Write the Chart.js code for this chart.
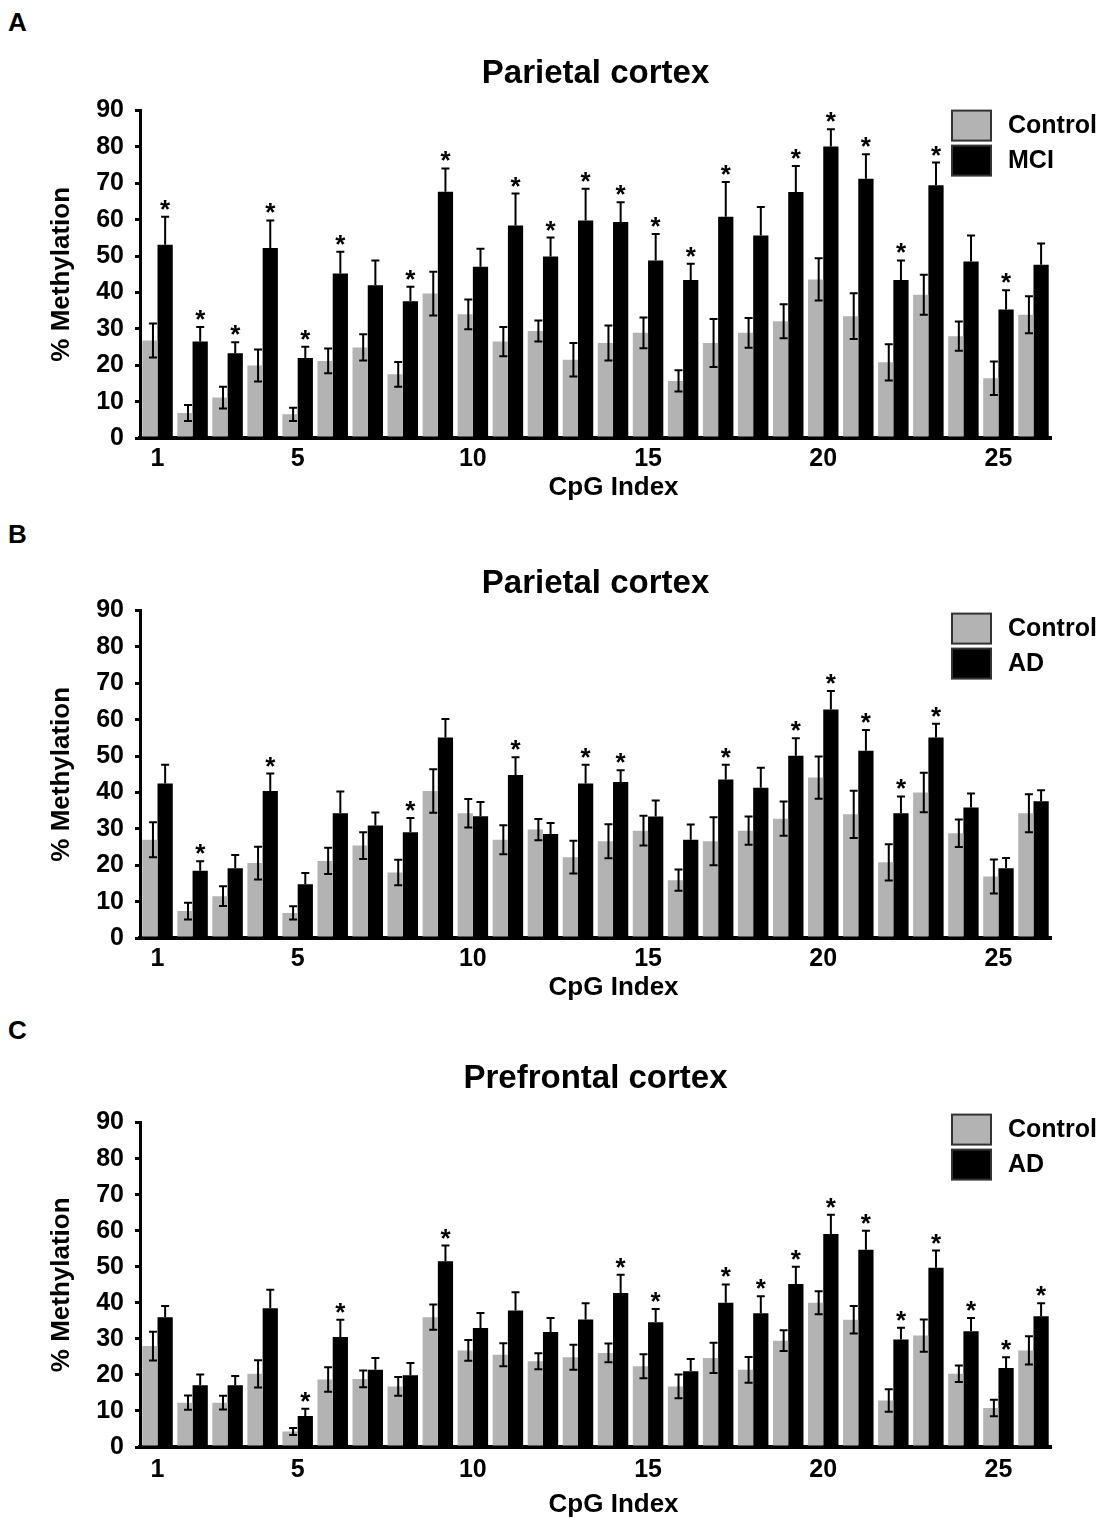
<!DOCTYPE html>
<html>
<head>
<meta charset="utf-8">
<script src="https://cdn.jsdelivr.net/npm/chart.js@4.4.1/dist/chart.umd.min.js"></script>
<style>
  body { margin: 0; width: 1106px; height: 1518px; background: #fff; position: relative; overflow: hidden; }
  .panel { position: absolute; left: 0; width: 1106px; }
  .letter { position: absolute; left: 8px; font: bold 26px "Liberation Sans", Arial, sans-serif; line-height: 1; color: #000; }
</style>
</head>
<body>
<div class="letter" style="top:9px">A</div>
<div class="letter" style="top:521px">B</div>
<div class="letter" style="top:1017px">C</div>
<div class="panel" id="panelA" style="top:40px;height:470px"><canvas></canvas></div>
<div class="panel" id="panelB" style="top:550px;height:460px"><canvas></canvas></div>
<div class="panel" id="panelC" style="top:1036px;height:482px"><canvas></canvas></div>
<script>
const cpgIndex = [1,2,3,4,5,6,7,8,9,10,11,12,13,14,15,16,17,18,19,20,21,22,23,24,25,26];
const xTickLabels = [1,5,10,15,20,25];

// A: parietal cortex, control vs MCI
const controlA    = [26.8,6.9,11.1,19.9,6.5,21.2,24.9,17.5,39.7,34.0,26.5,29.4,21.5,26.1,28.9,15.7,26.1,28.9,32.1,43.6,33.5,20.8,39.4,28.0,16.4,33.9];
const controlErrA = [4.7,2.2,3.0,4.4,1.8,3.4,3.6,3.4,6.0,4.1,4.0,2.9,4.6,4.8,4.2,2.9,6.6,4.1,4.7,5.8,6.3,5.0,5.5,4.0,4.6,5.1];
const mciA        = [53.1,26.5,23.3,52.2,22.0,45.2,42.0,37.6,67.7,47.1,58.4,49.9,59.8,59.4,48.8,43.4,60.8,55.7,67.6,80.1,71.3,43.4,69.5,48.5,35.3,47.6];
const mciErrA     = [7.7,4.0,3.0,7.6,3.1,6.0,6.8,4.0,6.4,4.9,8.8,5.2,8.7,5.4,7.3,4.5,9.6,7.8,7.2,4.8,6.7,5.4,6.2,7.2,5.3,5.9];
const sigA        = [1,2,3,4,5,6,8,9,11,12,13,14,15,16,17,19,20,21,22,23,25];

// B: parietal cortex, control vs AD
const controlB    = [27.0,7.4,11.5,20.6,6.9,21.2,25.4,18.0,40.4,34.3,27.0,29.8,22.2,26.6,29.5,15.9,26.6,29.5,32.8,44.1,34.0,20.8,40.0,28.8,16.9,34.3];
const controlErrB = [4.8,2.3,2.7,4.5,1.8,3.6,3.7,3.5,6.0,3.9,4.0,2.9,4.5,4.7,4.1,2.9,6.6,3.9,4.7,5.8,6.5,5.0,5.4,3.8,4.7,5.2];
const adB         = [42.5,18.5,19.2,40.4,14.8,34.3,30.9,29.1,55.1,33.5,44.8,28.6,42.5,42.9,33.4,27.0,43.6,41.3,50.1,62.8,51.5,34.3,55.1,35.9,19.2,37.6];
const adErrB      = [5.1,2.6,3.6,4.8,3.1,6.0,3.6,3.9,5.1,3.9,4.9,3.0,5.1,3.2,4.4,4.2,4.0,5.5,4.8,5.1,5.7,4.6,3.8,3.8,2.8,3.0];
const sigB        = [2,4,8,11,13,14,17,19,20,21,22,23];

// C: prefrontal cortex, control vs AD
const controlC    = [28.0,12.3,12.3,20.3,4.3,18.7,18.9,16.8,36.0,26.8,25.6,23.8,24.9,26.1,22.4,16.8,24.7,21.4,29.5,40.0,35.3,12.9,30.9,20.3,10.8,26.8];
const controlErrC = [4.0,2.0,1.9,3.8,1.0,3.4,2.3,2.6,3.5,2.9,3.2,2.2,3.5,2.6,3.3,3.3,4.2,3.6,2.9,3.2,3.8,3.1,4.5,2.3,2.3,3.9];
const adC         = [36.0,17.1,17.1,38.5,8.6,30.5,21.4,19.9,51.5,33.0,37.9,31.9,35.4,42.7,34.6,21.0,40.0,37.1,45.2,59.1,54.7,29.8,49.7,32.1,21.9,36.3];
const adErrC      = [3.1,3.0,2.6,5.1,2.0,4.8,3.3,3.4,4.4,4.2,5.0,3.9,4.5,5.1,3.7,3.4,5.1,4.7,4.8,5.3,5.3,3.3,4.8,3.7,3.0,3.6];
const sigC        = [5,6,9,14,15,17,18,19,20,21,22,23,24,25,26];

const FONT = '"Liberation Sans", Arial, Helvetica, sans-serif';
const GRAY = '#b3b3b3';

// error bars + significance stars, drawn with the y scale
const errorBars = {
    id: 'errorBars',
    afterDatasetsDraw(chart) {
        const ctx = chart.ctx;
        const yScale = chart.scales.y;
        ctx.save();
        ctx.strokeStyle = '#000';
        ctx.fillStyle = '#000';
        ctx.lineWidth = 2;
        chart.data.datasets.forEach((ds, i) => {
            const meta = chart.getDatasetMeta(i);
            meta.data.forEach((bar, j) => {
                const v = ds.data[j];
                const e = ds.errors[j];
                const x = bar.x + bar.width * ds.errOffset;
                const top = yScale.getPixelForValue(v + e);
                const bottom = yScale.getPixelForValue(ds.bothSides ? v - e : v);
                ctx.beginPath();
                ctx.moveTo(x, top);
                ctx.lineTo(x, bottom);
                ctx.moveTo(x - 4, top);
                ctx.lineTo(x + 4, top);
                if (ds.bothSides) {
                    ctx.moveTo(x - 4, bottom);
                    ctx.lineTo(x + 4, bottom);
                }
                ctx.stroke();
                if (ds.significant && ds.significant.includes(cpgIndex[j])) {
                    ctx.font = 'bold 26px ' + FONT;
                    ctx.textAlign = 'center';
                    ctx.textBaseline = 'alphabetic';
                    ctx.fillText('*', x, top + 1);
                }
            });
        });
        ctx.restore();
    }
};

// legend boxes sitting inside the top right of the plot
const boxLegend = {
    id: 'boxLegend',
    afterDraw(chart, args, opts) {
        const ctx = chart.ctx;
        const area = chart.chartArea;
        ctx.save();
        ctx.font = 'bold 25px ' + FONT;
        ctx.textBaseline = 'middle';
        ctx.textAlign = 'left';
        chart.data.datasets.forEach((ds, i) => {
            const bx = area.right - 99;
            const by = area.top + opts.offsetY + i * 35;
            ctx.fillStyle = ds.backgroundColor;
            ctx.fillRect(bx, by, 39, 30);
            ctx.strokeStyle = '#333';
            ctx.lineWidth = 2;
            ctx.strokeRect(bx, by, 39, 30);
            ctx.fillStyle = '#000';
            ctx.fillText(ds.label, area.right - 43, by + 16);
        });
        ctx.restore();
    }
};

function createChart(element, title, titlePad, xPad, control, controlErr, disease, diseaseErr, diseaseLabel, significant, legendY) {
    const canvas = element.querySelector('canvas');
    new Chart(canvas.getContext('2d'), {
        type: 'bar',
        data: {
            labels: cpgIndex,
            datasets: [{
                label: 'Control',
                data: control,
                errors: controlErr,
                errOffset: 0.2,
                bothSides: true,
                backgroundColor: GRAY,
                borderWidth: 0
            }, {
                label: diseaseLabel,
                data: disease,
                errors: diseaseErr,
                errOffset: 0,
                bothSides: false,
                significant: significant,
                backgroundColor: '#000',
                borderWidth: 0
            }]
        },
        options: {
            responsive: true,
            maintainAspectRatio: false,
            animation: false,
            categoryPercentage: 0.87,
            barPercentage: 1.0,
            layout: { padding: { left: 46, right: 55, top: 0, bottom: 0 } },
            plugins: {
                legend: { display: false },
                tooltip: { enabled: false },
                title: {
                    display: true,
                    fullSize: false,
                    text: title,
                    color: '#000',
                    font: { family: FONT, size: 33, weight: 'bold' },
                    padding: titlePad
                },
                boxLegend: { offsetY: legendY }
            },
            scales: {
                x: {
                    grid: { display: false },
                    border: { display: true, color: '#000', width: 4 },
                    ticks: {
                        color: '#000',
                        font: { family: FONT, size: 25, weight: 'bold', lineHeight: 1.0 },
                        autoSkip: false,
                        maxRotation: 0,
                        padding: xPad.ticks,
                        callback: (val, idx) => xTickLabels.includes(cpgIndex[idx]) ? cpgIndex[idx] : ''
                    },
                    title: {
                        display: true,
                        text: '     CpG Index',
                        color: '#000',
                        font: { family: FONT, size: 26, weight: 'bold', lineHeight: 1.0 },
                        padding: { top: xPad.top, bottom: xPad.bottom }
                    }
                },
                y: {
                    min: 0,
                    max: 90,
                    grid: {
                        display: true,
                        drawOnChartArea: false,
                        drawTicks: true,
                        tickLength: 5,
                        color: '#000',
                        lineWidth: 3
                    },
                    border: { display: true, color: '#000', width: 3 },
                    ticks: {
                        stepSize: 10,
                        color: '#000',
                        padding: 11,
                        font: { family: FONT, size: 25, weight: 'bold' }
                    },
                    title: {
                        display: true,
                        text: '% Methylation',
                        color: '#000',
                        font: { family: FONT, size: 26, weight: 'bold' },
                        padding: { top: 0, bottom: 8 }
                    }
                }
            }
        },
        plugins: [errorBars, boxLegend]
    });
}

createChart(document.getElementById('panelA'), 'Parietal cortex', { top: 14, bottom: 17 }, { ticks: 1, top: 2, bottom: 9 },
    controlA, controlErrA, mciA, mciErrA, 'MCI', sigA, 0);
createChart(document.getElementById('panelB'), 'Parietal cortex', { top: 14, bottom: 7 }, { ticks: 1, top: 2, bottom: 9 },
    controlB, controlErrB, adB, adErrB, 'AD', sigB, 3);
createChart(document.getElementById('panelC'), 'Prefrontal cortex', { top: 23, bottom: 24 }, { ticks: 3, top: 6, bottom: 0 },
    controlC, controlErrC, adC, adErrC, 'AD', sigC, -8);
</script>
</body>
</html>
